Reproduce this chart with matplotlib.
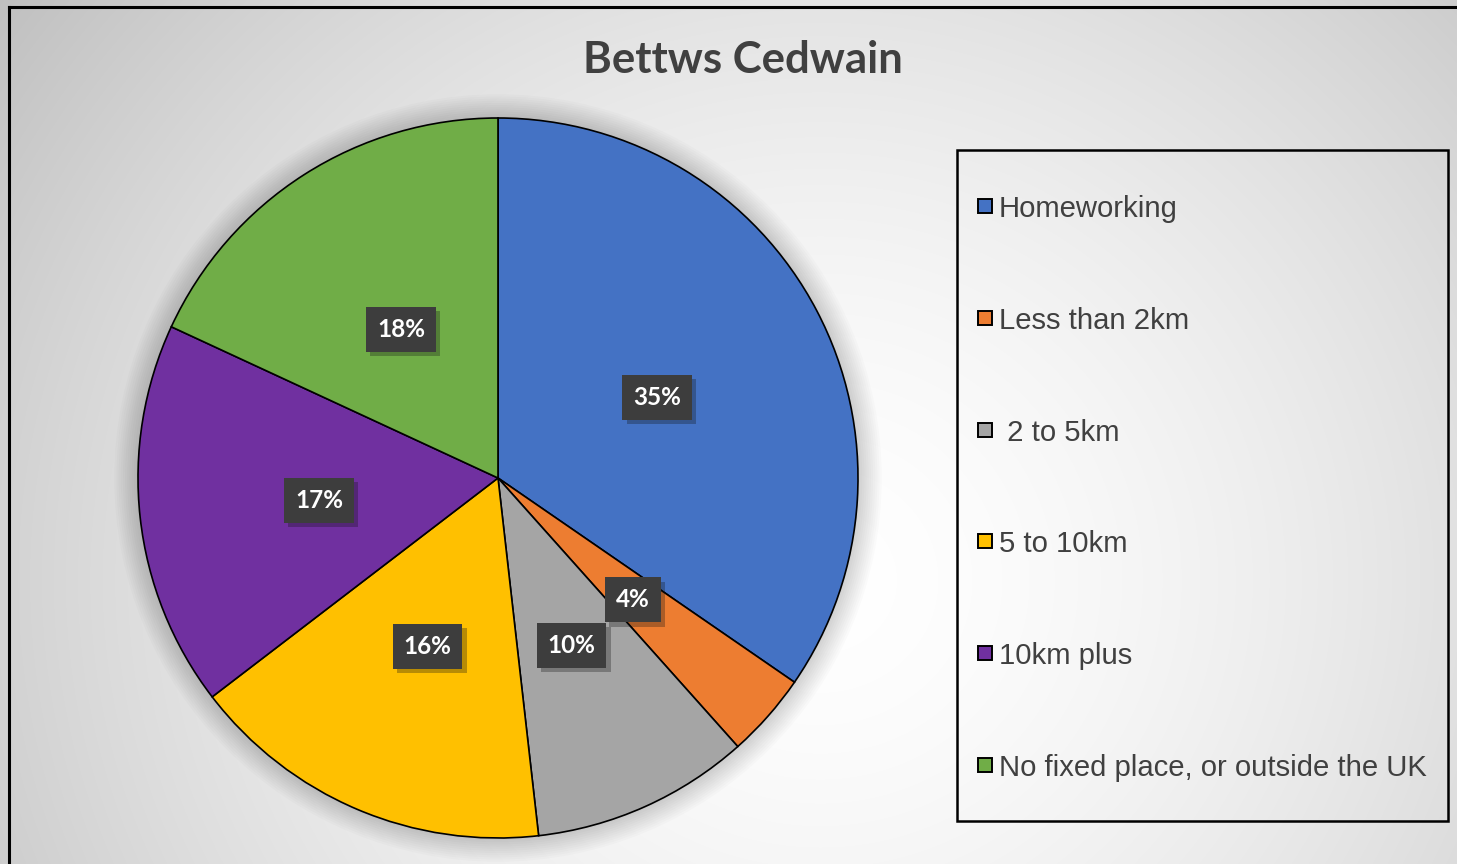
import numpy as np
import matplotlib
matplotlib.use("Agg")
import matplotlib.pyplot as plt
import matplotlib.patheffects as pe
from matplotlib.patches import Rectangle, Circle
from matplotlib.lines import Line2D

categories = ["Homeworking", "Less than 2km", " 2 to 5km", "5 to 10km",
              "10km plus", "No fixed place, or outside the UK"]
shares = [34.6, 3.8, 9.8, 16.4, 17.3, 18.1]
colors = ["#4472C4", "#ED7D31", "#A5A5A5", "#FFC000", "#7030A0", "#70AD47"]
title = "Bettws Cedwain"

W, H = 1457, 864
fig = plt.figure(figsize=(W / 100, H / 100), dpi=100)

# background radial gradient
bg = fig.add_axes([0, 0, 1, 1], zorder=-10)
yy, xx = np.mgrid[0:H, 0:W]
d = np.hypot(xx - 820, (yy - 580) * 1.05) / 1000.0
v = np.clip(1 - 0.24 * d ** 1.6, 0.74, 1.0)
bg.imshow(np.dstack([v, v, v]), extent=(0, W, H, 0), aspect="auto")
bg.set_xlim(0, W)
bg.set_ylim(H, 0)
bg.axis("off")
# outer frame (left and top visible)
bg.add_line(Line2D([9, 9], [H + 5, 7], color="black", lw=2.2))
bg.add_line(Line2D([9, W + 5], [7, 7], color="black", lw=2.2))

# pie
cx, cy, r = 498, 478, 360
k = 1.08
ax = fig.add_axes([(cx - r * k) / W, 1 - (cy + r * k) / H,
                   2 * r * k / W, 2 * r * k / H])
for i in range(1, 12):
    ax.add_patch(Circle((0, 0), 1 + i * 0.006, color="black", alpha=0.014,
                        lw=0, zorder=0))
wedges, texts, autotexts = ax.pie(
    shares, colors=colors, startangle=90, counterclock=False,
    autopct="%1.0f%%", pctdistance=0.5,
    wedgeprops=dict(edgecolor="black", linewidth=1.2),
    textprops=dict(color="white", fontfamily="Lato", fontweight="bold",
                   fontsize=17.5))
for t in autotexts:
    x, y = t.get_position()
    t.set_position((x, y - 0.008))
    t.set_bbox(dict(boxstyle="square,pad=0.45", facecolor="#3d3d3d",
                    edgecolor="none"))
    t.set_zorder(5)
    t.get_bbox_patch().set_path_effects(
        [pe.SimplePatchShadow(offset=(3, -3), alpha=0.3), pe.Normal()])
ax.set_xlim(-k, k)
ax.set_ylim(-k, k)
ax.set_aspect("equal")
ax.axis("off")

fig.text(743 / W, 1 - 60 / H, title, ha="center", va="center",
         fontfamily="Lato", fontweight="bold", fontsize=31.5, color="#404040")

# legend
lx0, ly0, lx1, ly1 = 957, 150, 1448, 821
bg.add_patch(Rectangle((lx0, ly0), lx1 - lx0, ly1 - ly0, fill=False,
                       edgecolor="black", lw=1.8))
row_y = [206, 318, 430, 541, 653, 765]
for lab, col, y in zip(categories, colors, row_y):
    bg.add_patch(Rectangle((978, y - 7), 14, 14, facecolor=col,
                           edgecolor="black", lw=1.4))
    bg.text(999, y + 3, lab, ha="left", va="center", fontsize=21.1,
            fontfamily="Liberation Sans", color="#404040")

fig.savefig("out.png", dpi=100)
